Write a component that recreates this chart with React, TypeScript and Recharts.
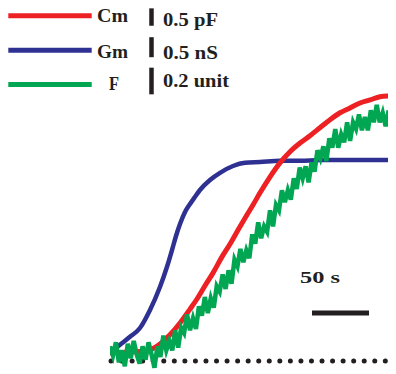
import { LineChart, Line, XAxis, YAxis, ReferenceLine } from 'recharts';

const RED = '#ed2024';
const BLUE = '#2e3192';
const GREEN = '#00a651';
const INK = '#231f20';
const FONT = '"Liberation Serif", "Times New Roman", serif';

// membrane conductance Gm (nS) vs time (s)
const T_GM = [0.9, 8.8, 17.5, 26.3, 35.1, 43.9, 50, 54.4, 57.9, 61.4, 65.8, 70.2, 74.6, 78.9, 87.7, 96.5, 107.9, 118.4, 131.6, 149.1, 166.7, 184.2, 201.8, 219.3, 236.8, 248.2];
const GM = [0.2, 0.38, 0.58, 0.8, 1.25, 1.83, 2.33, 2.75, 3.1, 3.4, 3.7, 3.9, 4.08, 4.25, 4.5, 4.68, 4.85, 4.93, 4.95, 4.98, 4.98, 5.0, 5.0, 5.0, 5.0, 5.0];

// membrane capacitance Cm (pF) vs time (s)
const T_CM = [0.9, 17.5, 30.7, 35.1, 43.9, 52.6, 61.4, 70.2, 76.3, 83.3, 90.4, 98.2, 105.3, 112.3, 120.2, 125.4, 131.6, 140.4, 149.1, 157.9, 166.7, 175.4, 184.2, 193, 201.8, 210.5, 219.3, 228.1, 236.8, 243.9];
const CM = [0.23, 0.26, 0.29, 0.32, 0.49, 0.75, 1.09, 1.49, 1.78, 2.16, 2.53, 2.99, 3.36, 3.76, 4.2, 4.48, 4.83, 5.29, 5.69, 6.01, 6.26, 6.47, 6.7, 6.93, 7.13, 7.27, 7.41, 7.5, 7.59, 7.61];

// fluorescence F (units), sampled every F_DT seconds from t = 0
const F_DT = 2.6;
const F = [
  0.11, 0.04, 0.14, -0.01, 0.08, -0.04, 0.13, 0.02, 0.15, 0.05,
  -0.02, 0.11, 0.01, 0.14, 0.05, -0.05, 0.11, 0.03, 0.19, 0.08,
  0.15, 0.08, 0.23, 0.1, 0.25, 0.21, 0.35, 0.23, 0.32, 0.24,
  0.41, 0.34, 0.48, 0.36, 0.47, 0.4, 0.56, 0.52, 0.65, 0.54,
  0.68, 0.58, 0.76, 0.71, 0.84, 0.74, 0.83, 0.77, 0.95, 0.88,
  1.04, 0.92, 1.01, 0.97, 1.13, 1.01, 1.17, 1.13, 1.28, 1.19,
  1.28, 1.21, 1.37, 1.29, 1.45, 1.37, 1.46, 1.34, 1.49, 1.42,
  1.58, 1.52, 1.61, 1.5, 1.67, 1.6, 1.74, 1.6, 1.7, 1.64,
  1.79, 1.65, 1.79, 1.74, 1.85, 1.73, 1.83, 1.73, 1.88, 1.79,
  1.92, 1.79, 1.86, 1.76, 1.88,
];

const LEGEND = [
  { name: 'Cm', color: RED, scale: '0.5 pF' },
  { name: 'Gm', color: BLUE, scale: '0.5 nS' },
  { name: 'F', color: GREEN, scale: '0.2 unit' },
];

export default function App() {
  const gmData = T_GM.map((t, i) => ({ t, gm: GM[i] }));
  const cmData = T_CM.map((t, i) => ({ t, cm: CM[i] }));
  const fData = F.map((f, i) => ({ t: i * F_DT, f }));

  return (
    <div style={{ position: 'relative', width: 388, height: 366 }}>
      <LineChart width={388} height={366} margin={{ top: 0, right: 1, bottom: 4, left: 102 }}>
        <XAxis type="number" dataKey="t" domain={[0, 250]} allowDataOverflow hide />
        <YAxis yAxisId="cm" type="number" domain={[-0.26, 10.14]} allowDataOverflow hide />
        <YAxis yAxisId="gm" type="number" domain={[-0.25, 8.8]} allowDataOverflow hide />
        <YAxis yAxisId="f" type="number" domain={[-0.0675, 2.6475]} allowDataOverflow hide />

        {/* baseline */}
        <ReferenceLine
          yAxisId="f"
          segment={[{ x: 0.9, y: 0 }, { x: 242, y: 0 }]}
          stroke={INK}
          strokeWidth={5}
          strokeDasharray="0 10.55"
          strokeLinecap="round"
          ifOverflow="visible"
        />

        <Line data={gmData} yAxisId="gm" dataKey="gm" type="monotone" stroke={BLUE} strokeWidth={4.5} dot={false} isAnimationActive={false} />
        <Line data={cmData} yAxisId="cm" dataKey="cm" type="monotone" stroke={RED} strokeWidth={5} strokeLinecap="round" dot={false} isAnimationActive={false} />
        <Line data={fData} yAxisId="f" dataKey="f" type="linear" stroke={GREEN} strokeWidth={4.5} dot={false} isAnimationActive={false} />

        {/* scale bars */}
        <ReferenceLine yAxisId="cm" segment={[{ x: 36.4, y: 9.63 }, { x: 36.4, y: 10.13 }]} stroke={INK} strokeWidth={4.5} ifOverflow="visible" />
        <ReferenceLine yAxisId="gm" segment={[{ x: 36.4, y: 7.57 }, { x: 36.4, y: 8.07 }]} stroke={INK} strokeWidth={4.5} ifOverflow="visible" />
        <ReferenceLine yAxisId="f" segment={[{ x: 36.4, y: 2.0 }, { x: 36.4, y: 2.2 }]} stroke={INK} strokeWidth={4.5} ifOverflow="visible" />
        <ReferenceLine yAxisId="f" segment={[{ x: 177.2, y: 0.36 }, { x: 227.2, y: 0.36 }]} stroke={INK} strokeWidth={5} ifOverflow="visible" />
      </LineChart>

      <svg
        width={396}
        height={374}
        style={{ position: 'absolute', left: -8, top: -8, pointerEvents: 'none', overflow: 'visible' }}
      >
        <g fontFamily={FONT} fontWeight="bold" fill={INK}>
          {LEGEND.map((item, i) => {
            const y = [15.8, 50.2, 84.5][i];
            const nameX = [97, 97, 109][i];
            const nameY = [22, 58, 90][i];
            const scaleY = [26, 59, 87][i];
            return (
              <g key={item.name}>
                <line x1={8.3} x2={91.7} y1={y} y2={y} stroke={item.color} strokeWidth={5} />
                <text x={nameX} y={nameY} fontSize={18} textLength={item.name === 'F' ? 10 : 31} lengthAdjust="spacingAndGlyphs">
                  {item.name}
                </text>
                <text x={163} y={scaleY} fontSize={18} textLength={item.scale === '0.2 unit' ? 66 : 55} lengthAdjust="spacingAndGlyphs">
                  {item.scale}
                </text>
              </g>
            );
          })}
          <text x={300} y={283} fontSize={17.5} textLength={40} lengthAdjust="spacingAndGlyphs">
            50 s
          </text>
        </g>
      </svg>
    </div>
  );
}
